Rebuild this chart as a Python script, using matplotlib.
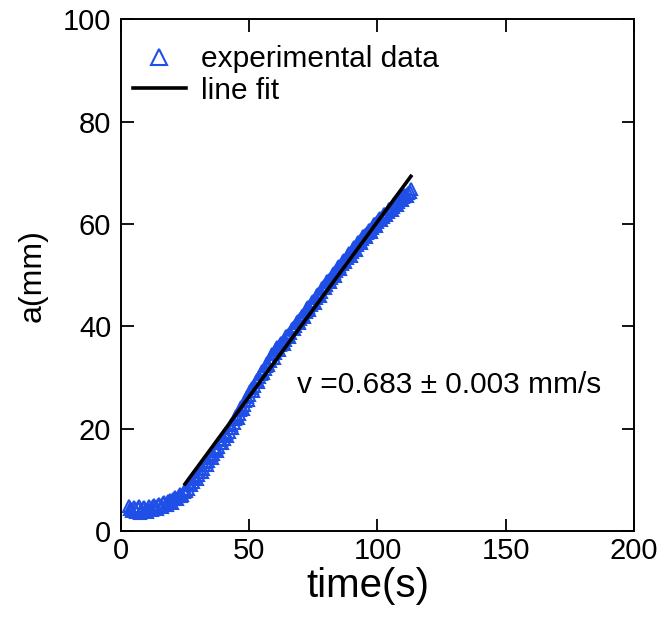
import matplotlib
matplotlib.use("Agg")
import matplotlib.pyplot as plt
import numpy as np

plt.rcParams["font.family"] = ["Liberation Sans", "DejaVu Sans"]

# measured crack length a(mm) vs time(s), sampled every 0.5 s
time_whole = list(range(3, 114))
a_whole = [
    4.9, 4.3, 4.6, 3.8, 4.8, 3.9, 4.6, 3.7, 4.8, 4.1,        # 3-12
    5.1, 4.3, 5.3, 4.6, 5.7, 5.0, 6.1, 5.5, 6.7, 6.2,        # 13-22
    7.3, 7.0, 8.0, 8.3, 9.4, 9.6, 10.8, 10.9, 12.1, 12.2,    # 23-32
    13.5, 13.6, 14.9, 15.0, 16.3, 16.4, 17.8, 17.9, 19.2, 19.4,  # 33-42
    20.8, 21.1, 22.5, 22.9, 24.3, 24.7, 26.1, 26.6, 27.9, 28.4,  # 43-52
    29.6, 30.0, 31.2, 31.6, 32.8, 33.2, 34.5, 34.7, 36.0, 36.3,  # 53-62
    36.9, 37.3, 38.3, 38.7, 39.6, 40.1, 41.0, 41.4, 42.3, 42.8,  # 63-72
    43.7, 44.1, 45.0, 45.5, 46.4, 46.8, 47.8, 48.1, 49.1, 49.5,  # 73-82
    50.4, 50.8, 51.7, 52.1, 53.0, 53.3, 54.3, 54.6, 55.5, 55.8,  # 83-92
    56.7, 57.0, 57.8, 58.2, 58.9, 59.3, 60.0, 60.4, 61.1, 61.4,  # 93-102
    62.0, 62.4, 63.0, 63.4, 64.0, 64.3, 64.9, 65.2, 65.7, 66.0,  # 103-112
    66.8,                                                        # 113
]
time_half = [t + 0.5 for t in range(3, 113)]
a_half = [
    4.4, 4.0, 4.3, 4.5, 3.6, 4.5, 4.0, 4.4, 4.2, 4.8,        # 3.5-12.5
    4.5, 5.0, 4.7, 5.4, 5.1, 5.8, 5.6, 6.3, 6.2, 6.9,        # 13.5-22.5
    6.8, 7.6, 7.9, 9.0, 9.0, 10.3, 10.2, 11.6, 11.5, 12.9,   # 23.5-32.5
    12.9, 14.4, 14.3, 15.8, 15.7, 17.2, 17.2, 18.7, 18.6, 20.2,  # 33.5-42.5
    20.2, 21.9, 22.0, 23.7, 23.8, 25.5, 25.6, 27.4, 27.4, 29.1,  # 43.5-52.5
    29.1, 30.7, 30.8, 32.3, 32.4, 33.9, 33.9, 35.5, 35.4, 36.8,  # 53.5-62.5
    36.6, 38.1, 37.9, 39.4, 39.5, 40.9, 40.7, 42.0, 41.9, 43.5,  # 63.5-72.5
    43.2, 44.8, 44.6, 46.2, 46.0, 47.5, 47.4, 48.9, 48.7, 50.2,  # 73.5-82.5
    49.9, 51.5, 51.2, 52.8, 52.5, 54.0, 53.8, 55.2, 54.9, 56.4,  # 83.5-92.5
    56.2, 57.6, 57.4, 58.8, 58.5, 59.9, 59.6, 61.0, 60.7, 62.0,  # 93.5-102.5
    61.8, 63.0, 62.8, 63.9, 63.7, 64.8, 64.6, 65.6, 65.4, 66.3,  # 103.5-112.5
]

# linear fit over the propagation stage
fit_range = [25, 113]
fit_slope = 0.683
fit_intercept = -7.875
fit_label = "v =0.683 \u00b1 0.003 mm/s"

time_s = np.concatenate([time_whole, time_half])
a_mm = np.concatenate([a_whole, a_half])
order = np.argsort(time_s)
time_s, a_mm = time_s[order], a_mm[order]

fig = plt.figure(figsize=(6.64, 6.2), dpi=100)
ax = fig.add_axes([0.182, 0.1435, 0.773, 0.8255])

blue = "#1f4fe6"
ax.plot(time_s, a_mm, linestyle="none", marker="^", markersize=8.5,
        markerfacecolor="none", markeredgecolor=blue, markeredgewidth=1.5,
        label="experimental data")

fx = np.array(fit_range, dtype=float)
ax.plot(fx, fit_slope * fx + fit_intercept, color="black", linewidth=2.6,
        label="line fit")

ax.set_xlim(0, 200)
ax.set_ylim(0, 100)
ax.set_xticks([0, 50, 100, 150, 200])
ax.set_yticks([0, 20, 40, 60, 80, 100])
ax.tick_params(direction="in", length=9, width=1.3, top=True, right=True,
               labelsize=21)
ax.tick_params(axis="x", pad=4)
ax.tick_params(axis="y", pad=7)
for sp in ax.spines.values():
    sp.set_linewidth(1.4)

ax.set_xlabel("time(s)", fontsize=29)
ax.xaxis.set_label_coords(0.481, -0.07)
ax.set_ylabel("a(mm)", fontsize=23, labelpad=11)

ax.text(68.5, 28.5, fit_label, fontsize=21.5, ha="left", va="center")

leg = ax.legend(loc="upper left", bbox_to_anchor=(-0.018, 0.99), frameon=False,
                fontsize=21.5, handlelength=1.8, handletextpad=0.5,
                labelspacing=0.12, borderaxespad=0.3)
leg.legend_handles[0].set_markersize(12)

fig.savefig("out.png", dpi=100)
